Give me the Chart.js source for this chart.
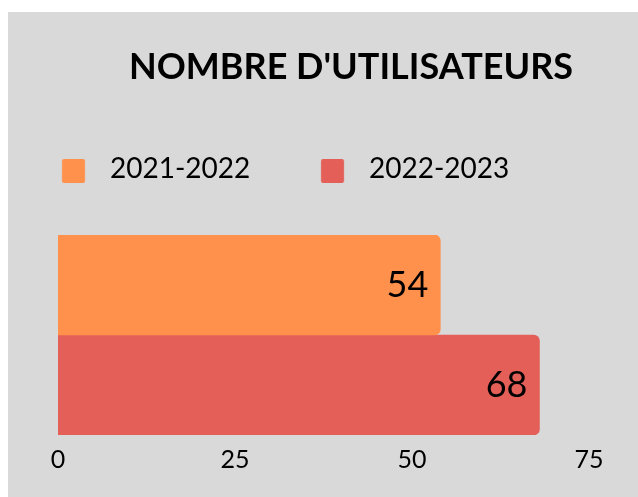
<!DOCTYPE html>
<html><head><meta charset="utf-8">
<script src="https://cdn.jsdelivr.net/npm/chart.js@4"></script>
<style>
html,body{margin:0;padding:0;background:#fff;overflow:hidden;width:638px;height:497px;position:relative}
#bg{position:absolute;left:8px;top:12px;width:630px;height:485px;background:#d9d9d9}
#c{position:absolute;left:-20px;top:0}
</style></head><body>
<div id="bg"></div>
<canvas id="c" width="740" height="497"></canvas>
<script>
// ---- data ----
const categories = ["Nombre d'utilisateurs"];
const seriesNames = ['2021-2022', '2022-2023'];
const series2021 = [54];
const series2022 = [68];
const xTicks = [0, 25, 50, 75];
const titleText = "NOMBRE D'UTILISATEURS";

// ---- styles ----
const colors = ['#ff914d', '#e45f58'];
const FONT = 'Lato, "Open Sans", sans-serif';
const legendSize = 28, titleSize = 36, tickSize = 25, valueSize = 36;

// ---- layout targets (page px) ----
const CANVAS_LEFT = -20, CANVAS_W = 740, CANVAS_H = 497;
const text1Left = 110, text2Left = 369, square1Left = 62, squareTop = 159, squareW = 23, squareH = 24;
const titleCenterX = 351, titleCenterY = 67.5;
const plotLeft = 58, plotRight = 589, plotTop = 235, plotBottom = 435;
const tickPad = 10;

const mctx = document.createElement('canvas').getContext('2d');
mctx.font = legendSize + 'px ' + FONT;
const tw1 = mctx.measureText(seriesNames[0]).width;
const half = legendSize / 2;
const pw = text2Left - text1Left - half - tw1;      // padding + boxWidth
const titleLH = titleSize * 1.2;
const titlePadTop = titleCenterY - titleLH / 2;
const T = titlePadTop + titleLH;                      // legend top
const itemCenterY = 169;
const p = itemCenterY - half - T;                     // legend padding
const W = pw - p;                                     // pointStyleWidth
const x1 = text1Left - half - W;                      // first item x (page)
const boxLeft = x1 - p;
const boxRight = 2 * titleCenterX - boxLeft;
const padL = boxLeft - CANVAS_LEFT;
const padR = (CANVAS_LEFT + CANVAS_W) - boxRight;
const yLeftW = plotLeft - boxLeft;
const yRightW = boxRight - plotRight;
const legendBottom = T + legendSize + p + 10;
const spacer = plotTop - legendBottom;
const padB = CANVAS_H - plotBottom - (tickPad + tickSize * 1.2 + 10);

// legend swatches
const imgW = Math.max(1, Math.round(W)), imgH = 2 * (squareTop + squareH - itemCenterY);
const dx = square1Left - x1 - (W / 2 - imgW / 2);
const dy = squareTop - (itemCenterY - imgH / 2);
const swatches = colors.map(c => {
  const cv = document.createElement('canvas');
  cv.width = imgW; cv.height = imgH;
  const g = cv.getContext('2d');
  g.fillStyle = c;
  g.beginPath();
  if (g.roundRect) g.roundRect(dx, dy, squareW, squareH, 2); else g.rect(dx, dy, squareW, squareH);
  g.fill();
  return cv;
});

const barLabels = {
  id: 'barLabels',
  afterDatasetsDraw(chart) {
    const ctx = chart.ctx;
    ctx.save();
    ctx.font = valueSize + 'px ' + FONT;
    ctx.fillStyle = '#000';
    ctx.textAlign = 'right';
    ctx.textBaseline = 'middle';
    chart.data.datasets.forEach((ds, i) => {
      chart.getDatasetMeta(i).data.forEach((bar, j) => {
        ctx.fillText(String(ds.data[j]), bar.x - 12, bar.y);
      });
    });
    ctx.restore();
  }
};

Chart.defaults.color = '#000';
Chart.defaults.font.family = FONT;

new Chart(document.getElementById('c'), {
  type: 'bar',
  data: {
    labels: categories,
    datasets: [
      { label: seriesNames[0], data: series2021, backgroundColor: colors[0], borderRadius: 6, borderSkipped: 'start' },
      { label: seriesNames[1], data: series2022, backgroundColor: colors[1], borderRadius: 6, borderSkipped: 'start' }
    ]
  },
  options: {
    indexAxis: 'y',
    responsive: false,
    animation: false,
    devicePixelRatio: 1,
    datasets: { bar: { categoryPercentage: 1, barPercentage: 1 } },
    layout: { padding: { left: padL, right: padR, top: 0, bottom: padB } },
    plugins: {
      title: {
        display: true, text: titleText, color: '#000',
        font: { size: titleSize, weight: 'bold', family: FONT },
        padding: { top: titlePadTop, bottom: 0 }
      },
      legend: {
        display: true, position: 'top', align: 'start',
        labels: {
          usePointStyle: true, pointStyleWidth: W, padding: p, color: '#000',
          font: { size: legendSize, family: FONT },
          generateLabels(chart) {
            const items = Chart.defaults.plugins.legend.labels.generateLabels(chart);
            items.forEach((it, i) => { it.pointStyle = swatches[i]; });
            return items;
          }
        }
      },
      tooltip: { enabled: false }
    },
    scales: {
      x: {
        type: 'linear', position: 'bottom', min: xTicks[0], max: xTicks[xTicks.length - 1],
        afterBuildTicks(s) { s.ticks = xTicks.map(v => ({ value: v })); },
        grid: { display: false, drawTicks: false, tickLength: 0 }, border: { display: false },
        ticks: { font: { size: tickSize, family: FONT }, color: '#000', padding: tickPad, maxRotation: 0 }
      },
      xTop: {
        type: 'linear', position: 'top', display: true,
        grid: { display: false, drawTicks: false }, border: { display: false }, ticks: { display: false },
        afterFit(s) { s.height = spacer; }
      },
      y: {
        type: 'category', position: 'left',
        grid: { display: false, drawTicks: false }, border: { display: false }, ticks: { display: false },
        afterFit(s) { s.width = yLeftW; }
      },
      yR: {
        type: 'linear', position: 'right', display: true,
        grid: { display: false, drawTicks: false }, border: { display: false }, ticks: { display: false },
        afterFit(s) { s.width = yRightW; }
      }
    }
  },
  plugins: [barLabels]
});
</script>
</body></html>
